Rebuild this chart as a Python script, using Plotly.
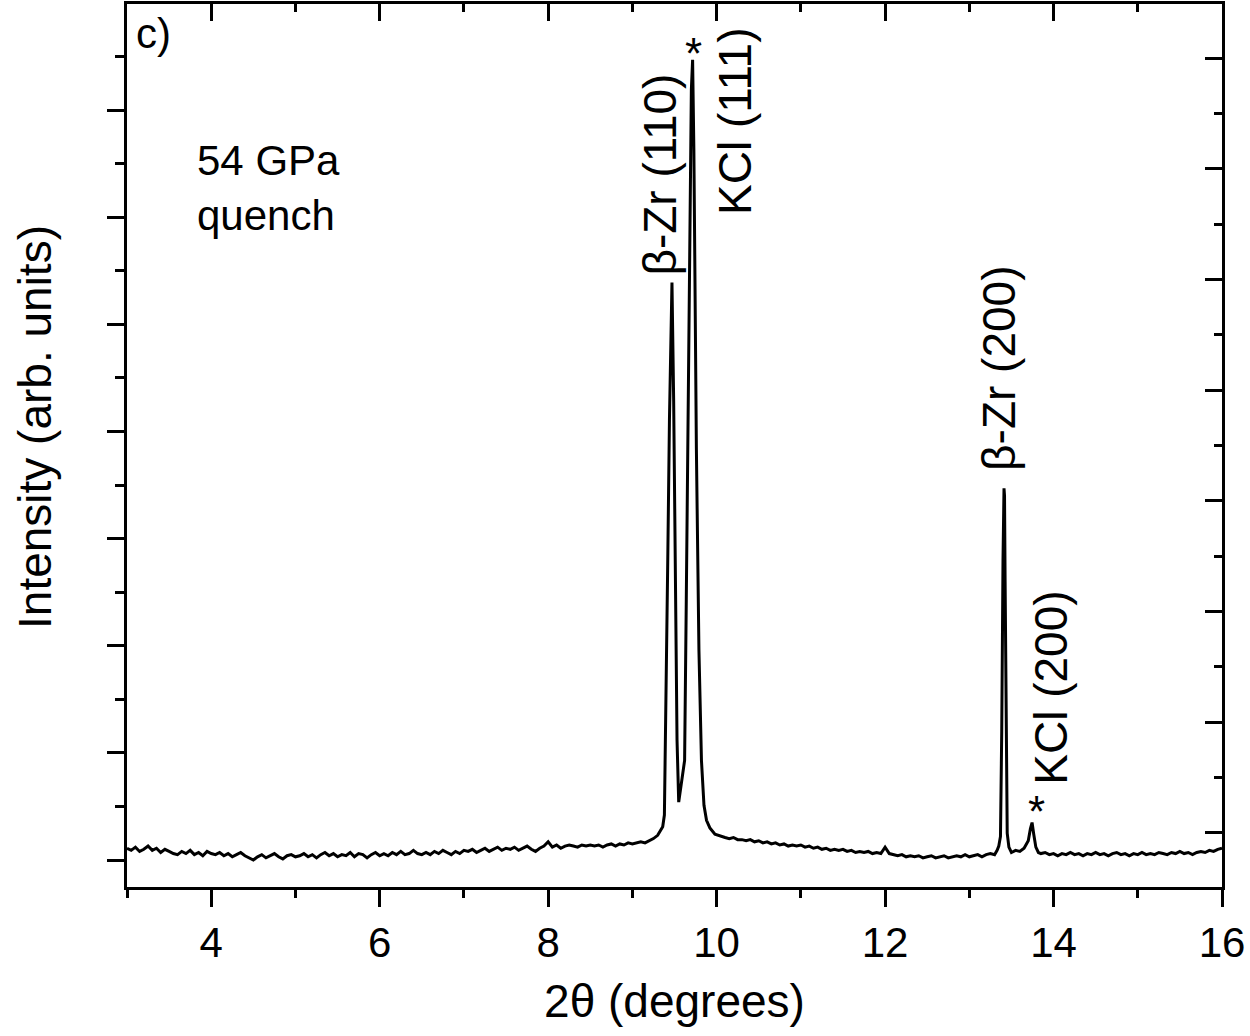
import plotly.graph_objects as go

# ---------------- data (2theta in degrees, intensity in arb. units) ----------------
two_theta_low = [round(3.00 + 0.05 * i, 2) for i in range(127)]  # 3.00 .. 9.30
int_low = [
    0.11, 0.09, 0.12, 0.08, 0.10, 0.13, 0.09, 0.11, 0.07, 0.10, 0.08,
    0.06, 0.05, 0.08, 0.06, 0.09, 0.05, 0.07, 0.04, 0.08, 0.06,
    0.05, 0.07, 0.04, 0.06, 0.03, 0.05, 0.07, 0.04, 0.02, 0.00,
    0.03, 0.05, 0.02, 0.04, 0.06, 0.03, 0.01, 0.04, 0.05, 0.03,
    0.04, 0.06, 0.03, 0.05, 0.02, 0.05, 0.07, 0.04, 0.06, 0.03,
    0.05, 0.04, 0.07, 0.03, 0.06, 0.05, 0.02, 0.05, 0.07, 0.04,
    0.06, 0.04, 0.07, 0.05, 0.08, 0.05, 0.06, 0.09, 0.06, 0.05,
    0.07, 0.05, 0.08, 0.06, 0.09, 0.07, 0.05, 0.08, 0.06, 0.09,
    0.08, 0.10, 0.07, 0.09, 0.11, 0.08, 0.10, 0.12, 0.09, 0.11,
    0.10, 0.12, 0.09, 0.11, 0.13, 0.10, 0.08, 0.11, 0.13, 0.17,
    0.12, 0.14, 0.11, 0.13, 0.14, 0.13, 0.12, 0.14, 0.13, 0.14,
    0.13, 0.14, 0.12, 0.14, 0.15, 0.13, 0.15, 0.14, 0.16, 0.15,
    0.16, 0.17, 0.16, 0.18, 0.20, 0.23,
]

two_theta_peak1 = [9.33, 9.36, 9.38, 9.40, 9.42, 9.44, 9.46, 9.47, 9.49, 9.51, 9.53,
                   9.55, 9.57, 9.60, 9.62, 9.64, 9.66, 9.68, 9.70, 9.715, 9.73,
                   9.76, 9.79, 9.82, 9.85, 9.88, 9.92, 9.98]
int_peak1 = [0.27, 0.31, 0.42, 1.49, 2.80, 4.11, 5.23, 5.39, 4.29, 2.43, 1.12,
             0.54, 0.65, 0.79, 0.93, 2.43, 4.29, 5.97, 7.19, 7.47, 6.63,
             3.83, 1.96, 0.93, 0.51, 0.37, 0.30, 0.24]

two_theta_mid = [round(10.05 + 0.05 * i, 2) for i in range(66)]  # 10.05 .. 13.30
int_mid = [
    0.22, 0.21, 0.20, 0.21, 0.19, 0.19, 0.18, 0.19, 0.17, 0.18,
    0.16, 0.17, 0.15, 0.16, 0.14, 0.15, 0.13, 0.14, 0.13, 0.14,
    0.12, 0.13, 0.11, 0.12, 0.10, 0.11, 0.09, 0.10, 0.09, 0.10,
    0.08, 0.09, 0.07, 0.08, 0.07, 0.08, 0.06, 0.07, 0.06, 0.12,
    0.06, 0.05, 0.04, 0.05, 0.03, 0.04, 0.03, 0.04, 0.02, 0.03,
    0.04, 0.02, 0.03, 0.04, 0.02, 0.03, 0.04, 0.03, 0.05, 0.03,
    0.04, 0.05, 0.03, 0.05, 0.06, 0.05,
]

two_theta_peak2 = [13.33, 13.35, 13.37, 13.385, 13.40, 13.412, 13.418, 13.425, 13.44,
                   13.45, 13.47, 13.50, 13.55, 13.60, 13.65, 13.70, 13.725, 13.745,
                   13.765, 13.79, 13.82, 13.85]
int_peak2 = [0.09, 0.13, 0.22, 1.20, 2.80, 3.47, 3.40, 2.60, 1.00,
             0.25, 0.12, 0.07, 0.09, 0.08, 0.11, 0.18, 0.29, 0.35,
             0.24, 0.12, 0.07, 0.06]

two_theta_high = [round(13.90 + 0.05 * i, 2) for i in range(43)]  # 13.90 .. 16.00
int_high = [
    0.07, 0.05, 0.06, 0.04, 0.06, 0.05, 0.07, 0.05, 0.06, 0.04,
    0.06, 0.05, 0.07, 0.05, 0.06, 0.04, 0.06, 0.07, 0.05, 0.06,
    0.04, 0.06, 0.05, 0.07, 0.05, 0.06, 0.05, 0.07, 0.06, 0.05,
    0.07, 0.06, 0.08, 0.06, 0.07, 0.05, 0.07, 0.08, 0.07, 0.09,
    0.08, 0.10, 0.11,
]

two_theta = two_theta_low + two_theta_peak1 + two_theta_mid + two_theta_peak2 + two_theta_high
intensity = int_low + int_peak1 + int_mid + int_peak2 + int_high

# peak labels: (text, 2theta, intensity)
label_texts = ["β-Zr (110)", "KCl (111)", "β-Zr (200)", "KCl (200)"]
label_x = [9.33, 10.22, 13.36, 13.96]
label_y = [6.40, 6.89, 4.59, 1.61]
star_x = [9.73, 13.80]
star_y = [7.53, 0.45]

FONT = "Liberation Sans, Arial, sans-serif"

fig = go.Figure()
fig.add_trace(go.Scatter(x=two_theta, y=intensity, mode="lines",
                         line=dict(color="black", width=3),
                         showlegend=False, hoverinfo="skip"))
# invisible companion trace so the mirrored top/right axes get drawn
fig.add_trace(go.Scatter(x=two_theta, y=intensity, mode="lines", xaxis="x2", yaxis="y2",
                         line=dict(color="rgba(0,0,0,0)", width=0),
                         showlegend=False, hoverinfo="skip"))

for t, x, y in zip(label_texts, label_x, label_y):
    fig.add_annotation(x=x, y=y, text=t, textangle=-90, showarrow=False,
                       xanchor="center", yanchor="middle",
                       font=dict(family=FONT, size=46, color="black"))
for x, y in zip(star_x, star_y):
    fig.add_annotation(x=x, y=y, text="*", showarrow=False,
                       xanchor="center", yanchor="middle",
                       font=dict(family=FONT, size=44, color="black"))

fig.add_annotation(x=3.81, y=6.27, text="54 GPa<br>quench", showarrow=False, align="left",
                   xanchor="left", yanchor="middle",
                   font=dict(family=FONT, size=42, color="black"))
fig.add_annotation(xref="paper", yref="paper", x=0.006, y=0.995, text="c)", showarrow=False,
                   xanchor="left", yanchor="top",
                   font=dict(family=FONT, size=42, color="black"))
# y-axis title
fig.add_annotation(xref="paper", yref="paper", x=-0.084, y=0.521,
                   text="Intensity (arb. units)", textangle=-90, showarrow=False,
                   xanchor="center", yanchor="middle",
                   font=dict(family=FONT, size=46, color="black"))

axis_common = dict(showline=True, linecolor="black", linewidth=3, showgrid=False,
                   zeroline=False, tickcolor="black", tickwidth=3)

fig.update_layout(
    width=1250, height=1036,
    margin=dict(l=127, r=28, t=4, b=149),
    paper_bgcolor="white", plot_bgcolor="white",
    font=dict(family=FONT, color="black"),
    xaxis=dict(range=[3, 16], side="bottom", ticks="outside", ticklen=17,
               tick0=0, dtick=2, tickfont=dict(size=42, family=FONT),
               minor=dict(dtick=1, ticks="outside", ticklen=8, tickwidth=3, tickcolor="black"),
               title=dict(text="2θ (degrees)", font=dict(size=46, family=FONT), standoff=20),
               **axis_common),
    xaxis2=dict(range=[3, 16], overlaying="x", side="top", ticks="inside", ticklen=17,
                tick0=0, dtick=2, showticklabels=False,
                minor=dict(dtick=1, ticks="inside", ticklen=8, tickwidth=3, tickcolor="black"),
                **axis_common),
    yaxis=dict(range=[-0.252, 7.99], ticks="outside", ticklen=17, tick0=0, dtick=1,
               showticklabels=False,
               minor=dict(dtick=0.5, ticks="outside", ticklen=9, tickwidth=3, tickcolor="black"),
               **axis_common),
    yaxis2=dict(range=[-0.49, 7.49], overlaying="y", side="right", ticks="inside", ticklen=17,
                tick0=0, dtick=1, showticklabels=False,
                minor=dict(dtick=0.5, ticks="inside", ticklen=8, tickwidth=3, tickcolor="black"),
                **axis_common),
)

fig.write_html("out.html")
